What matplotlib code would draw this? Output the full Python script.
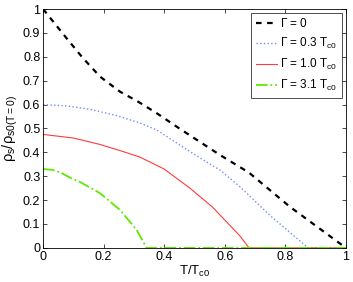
import matplotlib
matplotlib.use('Agg')
import matplotlib.pyplot as plt

plt.rcParams['font.family'] = ['Liberation Sans', 'DejaVu Sans']
plt.rcParams['mathtext.fontset'] = 'custom'
plt.rcParams['mathtext.rm'] = 'Liberation Sans'
plt.rcParams['mathtext.it'] = 'Liberation Sans:italic'

# values
t_g0 = [0, 0.073, 0.128, 0.188, 0.254, 0.314, 0.375, 0.45, 0.584, 0.68, 0.815, 1.0]
rho_g0 = [1.0, 0.885, 0.80, 0.717, 0.654, 0.612, 0.564, 0.50, 0.389, 0.315, 0.172, 0.0]

t_g03 = [0, 0.08, 0.155, 0.24, 0.32, 0.375, 0.452, 0.52, 0.584, 0.65, 0.75, 0.875, 1.0]
rho_g03 = [0.6, 0.594, 0.58, 0.555, 0.523, 0.494, 0.43, 0.375, 0.326, 0.256, 0.135, 0.0, 0.0]

t_g10 = [0, 0.1, 0.188, 0.26, 0.32, 0.4, 0.485, 0.56, 0.62, 0.65, 0.68, 1.0]
rho_g10 = [0.475, 0.46, 0.433, 0.405, 0.38, 0.33, 0.25, 0.17, 0.09, 0.05, 0.0, 0.0]

t_g31 = [0, 0.03, 0.06, 0.089, 0.122, 0.188, 0.254, 0.309, 0.342, 1.0]
rho_g31 = [0.33, 0.327, 0.314, 0.294, 0.276, 0.229, 0.159, 0.075, 0.0, 0.0]

fig = plt.figure(figsize=(3.53, 2.82), dpi=100)
ax = fig.add_axes([0.122, 0.121, 0.858, 0.847])

ax.plot(t_g0, rho_g0, color='black', ls=(0, (2.5, 2.5)), lw=1.6, label=r'$\Gamma$ = 0')
ax.plot(t_g03, rho_g03, color='#6f8cff', ls=':', lw=1.0, label=r'$\Gamma$ = 0.3 T$_{\rm c0}$')
ax.plot(t_g10, rho_g10, color='#ff3b3b', ls='-', lw=0.8, label=r'$\Gamma$ = 1.0 T$_{\rm c0}$')
ax.plot(t_g31, rho_g31, color='#5fe800', ls='-.', lw=1.3, label=r'$\Gamma$ = 3.1 T$_{\rm c0}$')

ax.set_xlim(0, 1)
ax.set_ylim(0, 1)
ax.set_xticks([0, 0.2, 0.4, 0.6, 0.8, 1])
ax.set_xticklabels(['0', '0.2', '0.4', '0.6', '0.8', '1'])
ax.set_yticks([i / 10 for i in range(11)])
ax.set_yticklabels(['0'] + ['0.%d' % i for i in range(1, 10)] + ['1'])
ax.tick_params(direction='in', top=True, right=True, labelsize=9, length=3, width=0.5, pad=2)
for s in ax.spines.values():
    s.set_linewidth(0.6)

ax.set_xlabel(r'T/T$_{\rm c0}$', fontsize=9.5, labelpad=1)
ax.set_ylabel('ρ$_{\\rm s}$/ρ$_{\\rm s0(T=0)}$', fontsize=10.5, labelpad=2)

leg = ax.legend(loc='upper right', fontsize=8.5, frameon=True, fancybox=False,
                edgecolor='black', handlelength=1.8, handletextpad=0.3,
                borderpad=0.4, labelspacing=0.5, borderaxespad=0.3)
leg.get_frame().set_linewidth(0.6)

fig.savefig('out.png', dpi=100)
